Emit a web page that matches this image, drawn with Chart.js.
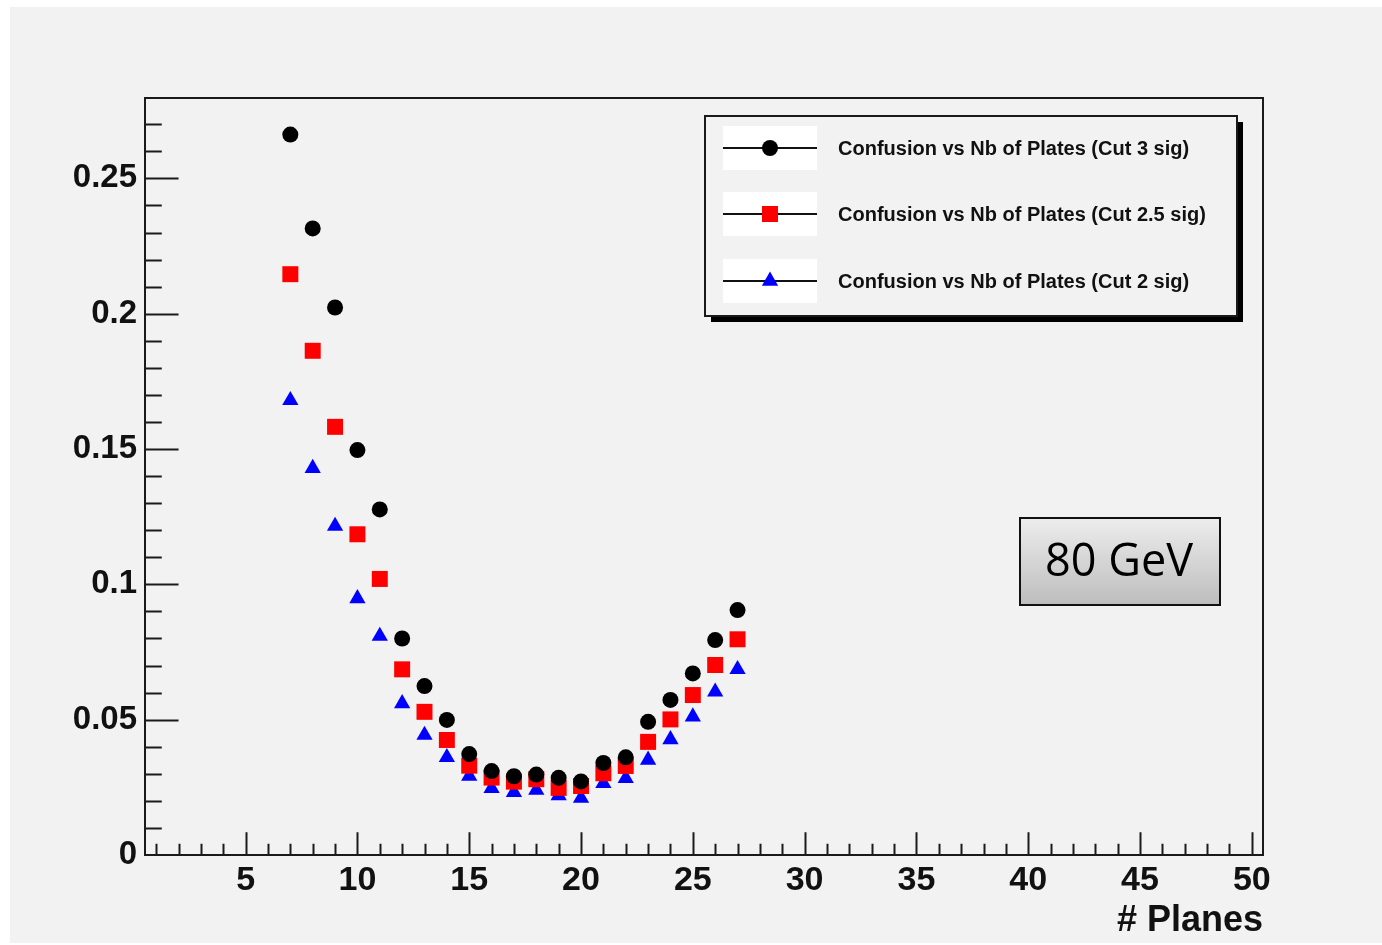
<!DOCTYPE html>
<html>
<head>
<meta charset="utf-8">
<title>Confusion vs Nb of Plates - 80 GeV</title>
<script src="https://cdn.jsdelivr.net/npm/chart.js@4.4.1/dist/chart.umd.min.js"></script>
<style>
  html, body { margin: 0; padding: 0; background: #fff; }
  #wrap { width: 1382px; height: 945px; }
</style>
</head>
<body>
<div id="wrap"><canvas id="chart" width="1382" height="945"></canvas></div>
<script>
// number of planes (x) and confusion for each cut
const planes = [7, 8, 9, 10, 11, 12, 13, 14, 15, 16, 17, 18, 19, 20, 21, 22, 23, 24, 25, 26, 27];
const cut3 = [0.2662, 0.2315, 0.2023, 0.1496, 0.1277, 0.0800, 0.0624, 0.0499, 0.0373, 0.0310, 0.0291,
  0.0297, 0.0285, 0.0272, 0.0340, 0.0361, 0.0492, 0.0573, 0.0671, 0.0794, 0.0905];
const cut25 = [0.2146, 0.1863, 0.1582, 0.1185, 0.1020, 0.0686, 0.0529, 0.0425, 0.0330, 0.0286, 0.0271,
  0.0280, 0.0248, 0.0255, 0.0302, 0.0329, 0.0418, 0.0501, 0.0591, 0.0702, 0.0797];
const cut2 = [0.1680, 0.1429, 0.1215, 0.0948, 0.0809, 0.0560, 0.0443, 0.0361, 0.0292, 0.0246, 0.0232,
  0.0240, 0.0220, 0.0210, 0.0265, 0.0283, 0.0351, 0.0427, 0.0511, 0.0603, 0.0686];

const seriesLabels = [
  "Confusion vs Nb of Plates (Cut 3 sig)",
  "Confusion vs Nb of Plates (Cut 2.5 sig)",
  "Confusion vs Nb of Plates (Cut 2 sig)",
];
const xTickValues = [5, 10, 15, 20, 25, 30, 35, 40, 45, 50];
const yTickValues = [0, 0.05, 0.1, 0.15, 0.2, 0.25];
const xRange = [0.5, 50.5];
const yRange = [0, 0.2797];
const xMinorStep = 1;
const yMinorStep = 0.01;
const axisTitle = "# Planes";
const energyLabel = "80 GeV";

const FONT = "'Liberation Sans', Arial, sans-serif";

function points(ys) {
  return planes.map((x, i) => ({ x, y: ys[i] }));
}

const backgroundPlugin = {
  id: "background",
  beforeDraw(chart) {
    const ctx = chart.ctx;
    ctx.save();
    ctx.fillStyle = "#ffffff";
    ctx.fillRect(0, 0, chart.width, chart.height);
    ctx.fillStyle = "#f2f2f2";
    ctx.fillRect(10, 7, chart.width - 10, chart.height - 9);
    ctx.restore();
  },
};

// ROOT style frame with ticks drawn inside the pad
const framePlugin = {
  id: "frame",
  beforeDatasetsDraw(chart) {
    const { ctx, chartArea: a, scales } = chart;
    const xs = scales.x;
    const ys = scales.y;
    ctx.save();
    ctx.strokeStyle = "#1a1a1a";
    ctx.lineWidth = 2;
    ctx.strokeRect(a.left, a.top, a.right - a.left, a.bottom - a.top);

    const wide = a.right - a.left;
    const high = a.bottom - a.top;
    ctx.beginPath();
    for (let i = 1; i * yMinorStep <= yRange[1]; i++) {
      const v = i * yMinorStep;
      const major = yTickValues.some((t) => Math.abs(t - v) < 1e-9);
      const len = major ? wide * 0.03 : wide * 0.015;
      const py = Math.round(ys.getPixelForValue(v)) + 0.5;
      ctx.moveTo(a.left, py);
      ctx.lineTo(a.left + len, py);
    }
    for (let v = Math.ceil(xRange[0]); v <= xRange[1]; v += xMinorStep) {
      const major = xTickValues.includes(v);
      const len = major ? high * 0.03 : high * 0.015;
      const px = Math.round(xs.getPixelForValue(v)) + 0.5;
      ctx.moveTo(px, a.bottom);
      ctx.lineTo(px, a.bottom - len);
    }
    ctx.stroke();
    ctx.restore();
  },
};

const legendBoxPlugin = {
  id: "legendBox",
  afterDraw(chart) {
    const ctx = chart.ctx;
    const box = { x: 705, y: 116, w: 532, h: 200 };
    ctx.save();
    // shadow
    ctx.fillStyle = "#000";
    ctx.fillRect(box.x + 6, box.y + 6, box.w, box.h);
    ctx.fillStyle = "#f2f2f2";
    ctx.fillRect(box.x, box.y, box.w, box.h);
    ctx.strokeStyle = "#1a1a1a";
    ctx.lineWidth = 2;
    ctx.strokeRect(box.x, box.y, box.w, box.h);

    const rowsY = [148, 214, 281];
    chart.data.datasets.forEach((ds, i) => {
      const cy = rowsY[i];
      ctx.fillStyle = "#ffffff";
      ctx.fillRect(723, cy - 22, 94, 44);
      ctx.strokeStyle = "#111";
      ctx.lineWidth = 2;
      ctx.beginPath();
      ctx.moveTo(723, cy);
      ctx.lineTo(817, cy);
      ctx.stroke();
      ctx.fillStyle = ds.backgroundColor;
      ctx.strokeStyle = ds.borderColor;
      Chart.helpers.drawPoint(ctx, { pointStyle: ds.pointStyle, radius: ds.pointRadius, rotation: 0, borderWidth: 0 }, 770, cy);
      ctx.fillStyle = "#111";
      ctx.font = "bold 20px " + FONT;
      ctx.textAlign = "left";
      ctx.textBaseline = "middle";
      ctx.fillText(ds.label, 838, cy + 1);
    });

    // energy label
    const e = { x: 1020, y: 518, w: 200, h: 87 };
    const g = ctx.createLinearGradient(0, e.y, 0, e.y + e.h);
    g.addColorStop(0, "#ededed");
    g.addColorStop(1, "#bdbdbd");
    ctx.fillStyle = g;
    ctx.fillRect(e.x, e.y, e.w, e.h);
    ctx.strokeStyle = "#111";
    ctx.lineWidth = 2;
    ctx.strokeRect(e.x, e.y, e.w, e.h);
    ctx.fillStyle = "#000";
    ctx.font = "45px 'Open Sans', 'Noto Sans', sans-serif";
    ctx.textAlign = "center";
    ctx.textBaseline = "middle";
    ctx.fillText(energyLabel, e.x + e.w / 2 - 1, e.y + e.h / 2 + 2);
    ctx.restore();
  },
};

new Chart(document.getElementById("chart"), {
  type: "scatter",
  data: {
    datasets: [
      { label: seriesLabels[0], data: points(cut3), pointStyle: "circle", pointRadius: 8,
        backgroundColor: "#000000", borderColor: "#000000", borderWidth: 0 },
      { label: seriesLabels[1], data: points(cut25), pointStyle: "rect", pointRadius: 11.3,
        backgroundColor: "#ff0000", borderColor: "#ff0000", borderWidth: 0 },
      { label: seriesLabels[2], data: points(cut2), pointStyle: "triangle", pointRadius: 9.4,
        backgroundColor: "#0000ff", borderColor: "#0000ff", borderWidth: 0 },
    ],
  },
  options: {
    responsive: false,
    animation: false,
    layout: { padding: { top: 98, right: 119, left: 0, bottom: 0 } },
    plugins: { legend: { display: false }, tooltip: { enabled: false } },
    scales: {
      x: {
        type: "linear",
        min: xRange[0],
        max: xRange[1],
        grid: { display: false, drawTicks: false },
        border: { display: false },
        afterBuildTicks: (s) => { s.ticks = xTickValues.map((v) => ({ value: v })); },
        afterFit: (s) => { s.height = 90; },
        ticks: { color: "#111", padding: 5, maxRotation: 0, autoSkip: false, font: { family: FONT, size: 34, weight: "bold" } },
        title: { display: true, text: axisTitle, align: "end", color: "#111", padding: { top: 0, bottom: 2 },
          font: { family: FONT, size: 36, weight: "bold" } },
      },
      y: {
        type: "linear",
        min: yRange[0],
        max: yRange[1],
        grid: { display: false, drawTicks: false },
        border: { display: false },
        afterBuildTicks: (s) => { s.ticks = yTickValues.map((v) => ({ value: v })); },
        afterFit: (s) => { s.width = 145; },
        ticks: { color: "#111", padding: 8, font: { family: FONT, size: 33, weight: "bold" },
          callback: (v) => String(Number(v.toFixed(2))) },
      },
    },
  },
  plugins: [backgroundPlugin, framePlugin, legendBoxPlugin],
});
</script>
</body>
</html>
